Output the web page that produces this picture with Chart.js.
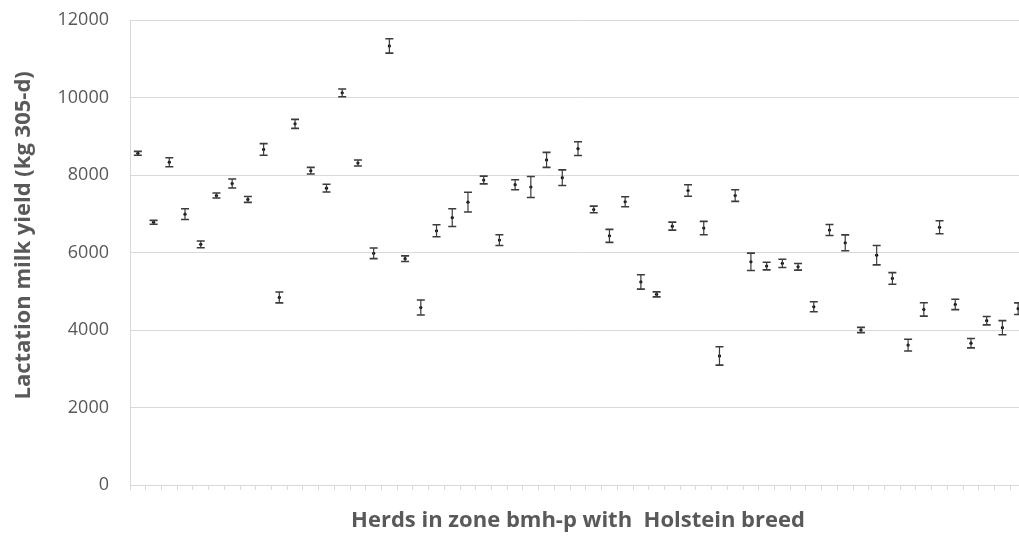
<!DOCTYPE html>
<html>
<head>
<meta charset="utf-8">
<script src="https://cdn.jsdelivr.net/npm/chart.js@4/dist/chart.umd.min.js"></script>
<style>
    html, body { margin: 0; padding: 0; overflow: hidden; background: #fff; }
    #caja { width: 1030px; height: 536px; }
</style>
</head>
<body>
<div id="caja"><canvas id="grafico"></canvas></div>
<script>
// Herds (57), mean lactation milk yield and error bar (+/-) in kg
const herds = [];
for (let i = 1; i <= 57; i++) herds.push(String(i));

const meanYield = [
    8560, 6780, 8330, 6990, 6210, 7470, 7780, 7370, 8660, 4840,
    9320, 8110, 7660, 10120, 8310, 5980, 11330, 5840, 4580, 6560,
    6900, 7300, 7870, 6320, 7750, 7690, 8390, 7930, 8680, 7110,
    6430, 7310, 5240, 4920, 6680, 7600, 6630, 3330, 7470, 5760,
    5650, 5720, 5630, 4600, 6580, 6250, 4000, 5930, 5330, 3610,
    4530, 6650, 4660, 3660, 4240, 4060, 4550
];

const errorYield = [
    50, 50, 116, 140, 86, 65, 116, 77, 150, 140,
    116, 86, 100, 100, 77, 138, 185, 73, 194, 155,
    228, 254, 100, 138, 129, 271, 194, 202, 177, 86,
    168, 129, 185, 65, 103, 150, 172, 237, 150, 224,
    99, 107, 86, 129, 142, 206, 69, 250, 150, 150,
    172, 168, 133, 120, 107, 181, 150
];

const yTicks = [0, 2000, 4000, 6000, 8000, 10000, 12000];

// Dibuja las barras de error con las escalas del grafico
const barrasError = {
    id: 'barrasError',
    afterDatasetsDraw(chart) {
        const ctx = chart.ctx;
        const x = chart.scales.x;
        const y = chart.scales.y;
        ctx.save();
        ctx.strokeStyle = '#3c3c3c';
        meanYield.forEach((m, i) => {
            const px = x.getPixelForValue(i);
            const top = y.getPixelForValue(m + errorYield[i]);
            const bot = y.getPixelForValue(m - errorYield[i]);
            ctx.lineWidth = 1.2;
            ctx.beginPath();
            ctx.moveTo(px, top);
            ctx.lineTo(px, bot);
            ctx.stroke();
            ctx.lineWidth = 1.6;
            ctx.beginPath();
            ctx.moveTo(px - 4, top);
            ctx.lineTo(px + 4, top);
            ctx.moveTo(px - 4, bot);
            ctx.lineTo(px + 4, bot);
            ctx.stroke();
        });
        ctx.restore();
    }
};

const ctx = document.getElementById('grafico').getContext('2d');
new Chart(ctx, {
    type: 'line',
    data: {
        labels: herds,
        datasets: [{
            label: 'Lactation milk yield',
            data: meanYield,
            showLine: false,
            pointRadius: 1.6,
            pointBackgroundColor: '#000',
            pointBorderColor: '#000',
            pointBorderWidth: 0
        }]
    },
    options: {
        responsive: true,
        maintainAspectRatio: false,
        animation: false,
        layout: { padding: { top: 20, right: 3, bottom: 0, left: 0 } },
        plugins: { legend: { display: false }, tooltip: { enabled: false } },
        scales: {
            x: {
                offset: true,
                grid: { drawOnChartArea: false, drawTicks: true, tickLength: 5, offset: true, color: '#d9d9d9' },
                border: { color: '#d9d9d9' },
                ticks: { display: false },
                title: {
                    display: true,
                    text: 'Herds in zone bmh-p with  Holstein breed',
                    color: '#595959',
                    font: { family: 'Open Sans', size: 22, weight: 'bold' },
                    padding: { top: 0, bottom: 2 }
                },
                afterFit(scale) { scale.height = 51; }
            },
            y: {
                min: 0,
                max: 12000,
                afterBuildTicks(scale) { scale.ticks = yTicks.map(v => ({ value: v })); },
                // marcas invisibles para separar las etiquetas del eje
                grid: { color: '#d9d9d9', drawTicks: true, tickLength: 21, tickColor: 'rgba(0,0,0,0)' },
                border: { color: '#d9d9d9' },
                ticks: {
                    padding: 0,
                    color: '#595959',
                    font: { family: 'Open Sans', size: 18 },
                    callback: v => String(v)
                },
                title: {
                    display: true,
                    text: '      Lactation milk yield (kg 305-d)',
                    color: '#595959',
                    font: { family: 'Open Sans', size: 22, weight: 'bold' },
                    padding: { top: 11, bottom: 0 }
                },
                afterFit(scale) { scale.width = 130; }
            }
        }
    },
    plugins: [barrasError]
});
</script>
</body>
</html>
